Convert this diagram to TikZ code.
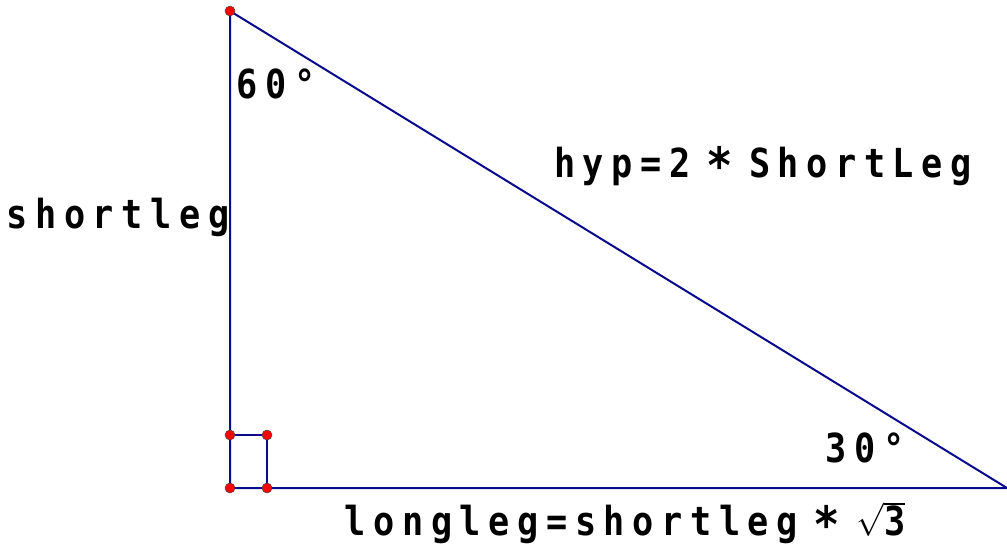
\documentclass[tikz,border=0pt]{standalone}
\usepackage{fontspec}
\setmonofont[LetterSpace=19,FakeStretch=0.88]{DejaVu Sans Mono}
\definecolor{navy}{RGB}{10,10,140}
\newcommand{\mul}{\hspace{0.4em}\raisebox{-0.3ex}{\scalebox{1.25}{*}}\hspace{0.4em}}
\tikzset{
  side/.style={draw=navy, line width=1.5pt},
  pt/.style={circle, fill=red, draw=black!70, line width=0.4pt, inner sep=0pt, minimum size=7.5pt},
  lbl/.style={font=\ttfamily\bfseries\fontsize{30}{34}\selectfont, inner sep=0pt}
}
\begin{document}
\begin{tikzpicture}[x=0.75pt,y=-0.75pt]
\useasboundingbox (0,0) rectangle (1007,554);

% -------------------------------------------------
% Sommets
% -------------------------------------------------
\coordinate (A) at (230,11);   % sommet haut
\coordinate (C) at (230,488);  % angle droit
\coordinate (B) at (1007,488); % sommet droit
\coordinate (Q1) at (230,435);
\coordinate (Q2) at (267,435);
\coordinate (Q3) at (267,488);

% -------------------------------------------------
% Triangle
% -------------------------------------------------
\draw[side] (A) -- (C) -- (B) -- cycle;
\draw[side] (Q1) -- (Q2) -- (Q3);

% -------------------------------------------------
% Points
% -------------------------------------------------
\foreach \p in {A,C,Q1,Q2,Q3}
  \node[pt] at (\p) {};

% -------------------------------------------------
% Labels
% -------------------------------------------------
\node[lbl] (a60) at (276,84) {60°};
\node[lbl] (a30) at (865,448) {30°};
\node[lbl] (hyp) at (763,166) {hyp=2\mul ShortLeg};
\node[lbl] (short) at (118,217) {shortleg};
\node[lbl] (long) at (625,523) {longleg=shortleg\mul$\sqrt{\mbox{3}}$};

\end{tikzpicture}
\end{document}
